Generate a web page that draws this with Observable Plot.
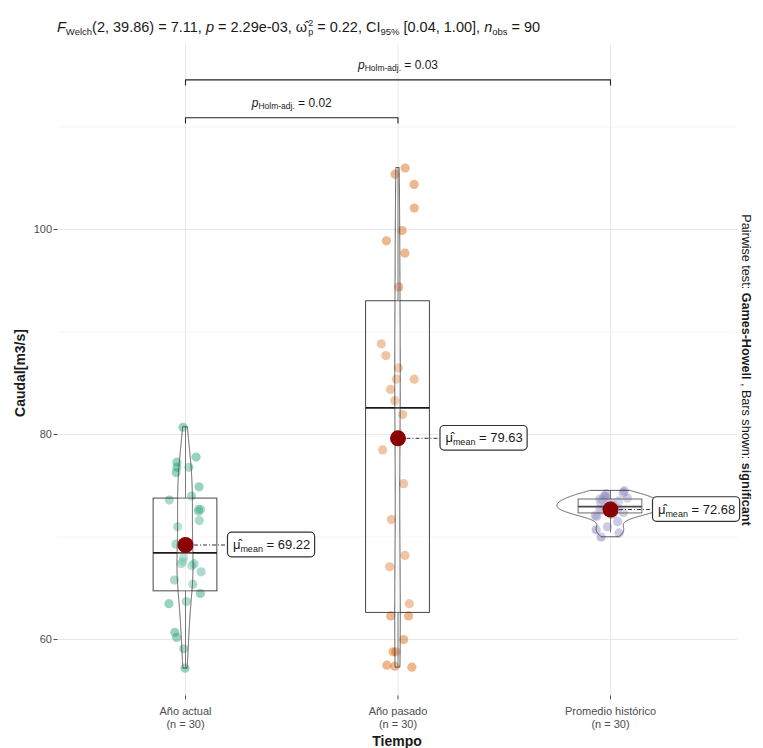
<!DOCTYPE html>
<html>
<head>
<meta charset="utf-8">
<script src="https://cdn.jsdelivr.net/npm/d3@7"></script>
<script src="https://cdn.jsdelivr.net/npm/@observablehq/plot@0.6"></script>
<style>
  html, body { margin: 0; padding: 0; background: #fff; overflow: hidden; }
  #wrap { position: relative; width: 763px; height: 748px; font-family: "Liberation Sans", Arial, sans-serif; color: #1a1a1a; }
  #title { position: absolute; left: 57px; top: 18px; font-size: 14.5px; line-height: 18px; white-space: nowrap; }
  #title sub { font-size: 9.5px; vertical-align: -3px; }
  .ss { display: inline-flex; flex-direction: column; font-size: 9px; line-height: 9px; vertical-align: 6px; margin-left: 1px; }
  #chart { position: absolute; left: 0; top: 42px; }
  #ylab { position: absolute; left: 20px; top: 373px; transform: translate(-50%, -50%) rotate(-90deg); font-weight: bold; font-size: 14px; white-space: nowrap; }
  #xlab { position: absolute; left: 397px; top: 741px; transform: translate(-50%, -50%); font-weight: bold; font-size: 14px; white-space: nowrap; }
  #cap { position: absolute; left: 746px; top: 370px; transform: translate(-50%, -50%) rotate(90deg); font-size: 12.6px; white-space: nowrap; }
</style>
</head>
<body>
<div id="wrap">
  <div id="title"><i>F</i><sub>Welch</sub>(2, 39.86) = 7.11, <i>p</i> = 2.29e-03, ω&#770;<span class="ss"><span>2</span><span>p</span></span> = 0.22, CI<sub>95%</sub> [0.04, 1.00], <i>n</i><sub>obs</sub> = 90</div>
  <div id="chart"></div>
  <div id="ylab">Caudal[m3/s]</div>
  <div id="xlab">Tiempo</div>
  <div id="cap">Pairwise test: <b>Games-Howell</b> , Bars shown: <b>significant</b></div>
</div>
<script>
// ---------- data ----------
const categories = ["Año actual", "Año pasado", "Promedio histórico"];
const nLabels = ["(n = 30)", "(n = 30)", "(n = 30)"];
const anioActual = [80.7, 77.8, 77.3, 76.8, 76.8, 76.3, 74.9, 74.0, 73.6, 72.7, 72.7, 72.5, 71.6, 71.0, 69.3,
                    68.0, 67.6, 67.4, 67.4, 67.2, 66.6, 65.8, 65.4, 64.5, 63.7, 63.5, 60.7, 60.2, 59.1, 57.2];
const anioPasado = [106.0, 105.4, 104.4, 102.1, 99.9, 98.9, 97.7, 94.4, 88.85, 87.7, 86.5, 85.4, 85.4, 84.4, 83.3,
                    81.95, 78.5, 75.2, 71.7, 68.2, 67.1, 63.5, 62.3, 62.3, 60.0, 58.8, 58.8, 57.5, 57.4, 57.3];
const promedioHistorico = [74.5, 74.3, 74.2, 74.0, 73.9, 73.8, 73.7, 73.6, 73.5, 73.4, 73.3, 73.2, 73.1, 73.0, 73.0,
                    72.9, 72.8, 72.7, 72.6, 72.5, 72.4, 72.3, 72.2, 72.1, 72.0, 71.5, 71.0, 70.7, 70.4, 70.0];
const groups = [anioActual, anioPasado, promedioHistorico];
const means = [69.22, 79.63, 72.68];
const meanLabels = ["69.22", "79.63", "72.68"];
const q1s = [64.7, 62.6, 72.3];
const medians = [68.45, 82.6, 72.97];
const q3s = [73.75, 93.0, 73.66];
const colors = ["#1B9E77", "#D95F02", "#7570B3"];
const bracketPairs = [[1, 2], [1, 3]];
const bracketLevels = [110.9, 114.6];
const bracketP = ["0.02", "0.03"];
const yTicks = [60, 80, 100];
const yMinor = [70, 90, 110];

// ---------- derived tables ----------
const rnd = d3.randomUniform.source(d3.randomLcg(0.4217))(-0.08, 0.08);
const points = groups.flatMap((vals, gi) => vals.map(v => ({g: gi, x: gi + 1 + rnd(), y: v})));

function kde(values) {
  const s = values.slice().sort(d3.ascending);
  const n = s.length;
  const sd = d3.deviation(s);
  const iqr = d3.quantile(s, 0.75) - d3.quantile(s, 0.25);
  const bw = 0.9 * Math.min(sd, iqr / 1.34) * Math.pow(n, -0.2);
  const lo = s[0], hi = s[n - 1];
  return d3.range(512).map(k => {
    const y = lo + (hi - lo) * k / 511;
    const d = d3.mean(s, v => Math.exp(-0.5 * ((y - v) / bw) ** 2)) / (bw * Math.sqrt(2 * Math.PI));
    return {y, d};
  });
}
const dens = groups.map(kde);
const dmax = d3.max(dens.flat(), e => e.d);
const violin = dens.flatMap((arr, gi) => arr.map(e => ({g: gi, y: e.y, x1: gi + 1 - 0.25 * e.d / dmax, x2: gi + 1 + 0.25 * e.d / dmax})));

const boxes = groups.map((vals, gi) => {
  const iqr = q3s[gi] - q1s[gi];
  const lo = d3.min(vals.filter(v => v >= q1s[gi] - 1.5 * iqr));
  const hi = d3.max(vals.filter(v => v <= q3s[gi] + 1.5 * iqr));
  return {x: gi + 1, q1: q1s[gi], q3: q3s[gi], med: medians[gi], lo, hi};
});
const meanTable = means.map((m, gi) => ({x: gi + 1, y: m, label: meanLabels[gi]}));
const brackets = bracketPairs.flatMap(([a, b], i) => [
  {id: i, x: a, y: bracketLevels[i] - 0.5},
  {id: i, x: a, y: bracketLevels[i]},
  {id: i, x: b, y: bracketLevels[i]},
  {id: i, x: b, y: bracketLevels[i] - 0.5}
]);
const bracketText = bracketPairs.map(([a, b], i) => ({x: (a + b) / 2, y: bracketLevels[i], p: bracketP[i]}));

// ---------- plot ----------
const plot = Plot.plot({
  width: 763,
  height: 706,
  marginLeft: 57.5,
  marginRight: 25.5,
  marginTop: 2.5,
  marginBottom: 52.6,
  style: {fontFamily: "'Liberation Sans', Arial, sans-serif", background: "#fff"},
  x: {domain: [0.4, 3.6], axis: null},
  y: {domain: [54.5, 118], axis: null},
  marks: [
    Plot.ruleY(yMinor, {stroke: "#f3f3f3", strokeWidth: 0.8}),
    Plot.ruleY(yTicks, {stroke: "#e8e8e8", strokeWidth: 1}),
    Plot.ruleX([1, 2, 3], {stroke: "#e8e8e8", strokeWidth: 1}),
    Plot.axisY({ticks: yTicks, tickSize: 4, tickPadding: 2, fontSize: 11, fill: "#4d4d4d", stroke: "#4d4d4d"}),
    Plot.axisX({ticks: [1, 2, 3], tickFormat: i => categories[i - 1] + "\n" + nLabels[i - 1], tickSize: 4, tickPadding: 5, fontSize: 11, lineHeight: 1.25, fill: "#4d4d4d", stroke: "#4d4d4d"}),
    Plot.dot(points, {x: "x", y: "y", r: 4.6, fill: d => colors[d.g], fillOpacity: 0.45, stroke: "none"}),
    Plot.ruleX(boxes, {x: "x", y1: "q3", y2: "hi", stroke: "#333", strokeWidth: 0.8}),
    Plot.ruleX(boxes, {x: "x", y1: "q1", y2: "lo", stroke: "#333", strokeWidth: 0.8}),
    Plot.rect(boxes, {x1: d => d.x - 0.15, x2: d => d.x + 0.15, y1: "q1", y2: "q3", fill: "#fff", fillOpacity: 0.2, stroke: "#333", strokeWidth: 0.9}),
    Plot.ruleY(boxes, {y: "med", x1: d => d.x - 0.15, x2: d => d.x + 0.15, stroke: "#1a1a1a", strokeWidth: 1.6}),
    Plot.areaX(violin, {y: "y", x1: "x1", x2: "x2", z: "g", fill: "#fff", fillOpacity: 0.2, stroke: "#333", strokeWidth: 0.8}),
    Plot.ruleY(meanTable, {y: "y", x1: "x", x2: d => d.x + 0.2, stroke: "#333", strokeWidth: 1, strokeDasharray: "4 2 1 2"}),
    Plot.dot(meanTable, {x: "x", y: "y", r: 8, fill: "#8b0000", stroke: "none"}),
    Plot.rect(meanTable, {x1: d => d.x + 0.2, x2: d => d.x + 0.61, y1: d => d.y - 1.2, y2: d => d.y + 1.2, fill: "#fff", stroke: "#333", strokeWidth: 1.2, rx: 4}),
    Plot.text(meanTable, {x: d => d.x + 0.405, y: "y", text: "label", fontSize: 13, fill: "#1a1a1a", className: "meanlab"}),
    Plot.line(brackets, {x: "x", y: "y", z: "id", stroke: "#222", strokeWidth: 1.1}),
    Plot.text(bracketText, {x: "x", y: "y", text: "p", dy: -15, fontSize: 12, fill: "#1a1a1a", className: "brlab"})
  ]
});
document.getElementById("chart").appendChild(plot);

// rich text for labels
d3.select(plot).selectAll("g.meanlab text").each(function() {
  const t = d3.select(this);
  const val = t.text();
  t.text(null);
  t.append("tspan").text("\u03bc\u0302");
  t.append("tspan").attr("font-size", 9).attr("dy", 3).text("mean");
  t.append("tspan").attr("dy", -3).text(" = " + val);
});
d3.select(plot).selectAll("g.brlab text").each(function() {
  const t = d3.select(this);
  const val = t.text();
  t.text(null);
  t.append("tspan").attr("font-style", "italic").text("p");
  t.append("tspan").attr("font-size", 8.5).attr("dy", 2.5).text("Holm-adj.");
  t.append("tspan").attr("dy", -2.5).text(" = " + val);
});
</script>
</body>
</html>
